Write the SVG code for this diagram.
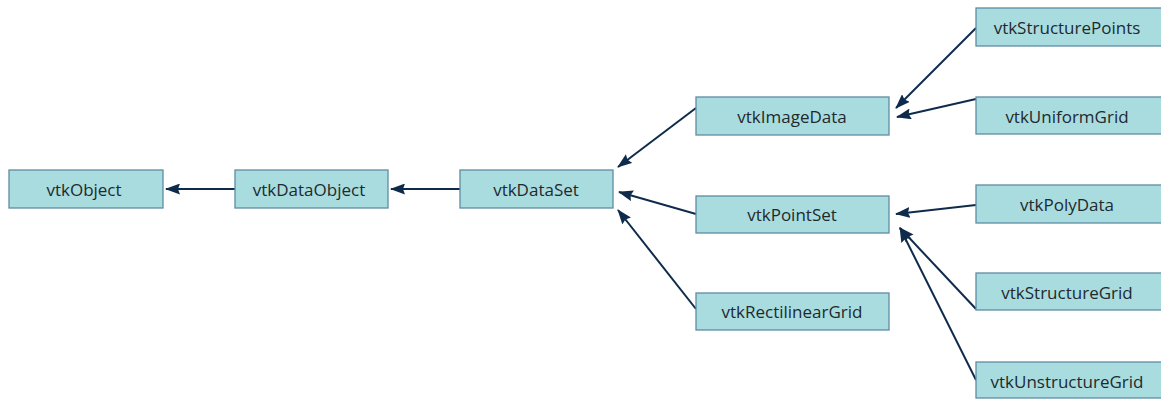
<svg xmlns="http://www.w3.org/2000/svg" width="1161" height="399" viewBox="0 0 1161 399">
<defs>
<style>
.box{fill:#a9dcdf;stroke:#5e8ca3;stroke-width:1.3}
.lbl{font-family:"Open Sans","Noto Sans",sans-serif;font-size:17px;fill:#1e2a2e;text-anchor:middle;dominant-baseline:central}
.edge{stroke:#0f2b4c;stroke-width:2;fill:none;marker-end:url(#ah)}
</style>
<marker id="ah" viewBox="0 0 15 11" refX="14" refY="5.5" markerWidth="7.5" markerHeight="5.5" orient="auto" markerUnits="strokeWidth">
<path d="M0,0 L15,5.5 L0,11 L2,5.5 Z" fill="#0f2b4c"/>
</marker>
</defs>
<rect width="1161" height="399" fill="#ffffff"/>
<g id="connectors">
<line class="edge" x1="235" y1="189" x2="166" y2="189"/>
<line class="edge" x1="460" y1="189" x2="391" y2="189"/>
<line class="edge" x1="696" y1="108" x2="618" y2="167"/>
<line class="edge" x1="696" y1="214" x2="619" y2="192"/>
<line class="edge" x1="696" y1="309" x2="618" y2="210"/>
<line class="edge" x1="976" y1="28" x2="896" y2="108"/>
<line class="edge" x1="976" y1="99" x2="897" y2="117"/>
<line class="edge" x1="976" y1="205" x2="896" y2="214"/>
<line class="edge" x1="976" y1="309" x2="900" y2="228"/>
<line class="edge" x1="976" y1="380" x2="900" y2="228"/>
</g>
<g id="vtkObject"><rect class="box" x="9" y="170" width="154" height="38"/><text class="lbl" x="84" y="189">vtkObject</text></g>
<g id="vtkDataObject"><rect class="box" x="235" y="170" width="153" height="38"/><text class="lbl" x="309" y="189">vtkDataObject</text></g>
<g id="vtkDataSet"><rect class="box" x="460" y="170" width="153" height="38"/><text class="lbl" x="536" y="189">vtkDataSet</text></g>
<g id="vtkImageData"><rect class="box" x="696" y="97" width="193" height="38"/><text class="lbl" x="792" y="116">vtkImageData</text></g>
<g id="vtkPointSet"><rect class="box" x="696" y="196" width="193" height="37"/><text class="lbl" x="792" y="214">vtkPointSet</text></g>
<g id="vtkRectilinearGrid"><rect class="box" x="696" y="293" width="193" height="37"/><text class="lbl" x="792" y="311">vtkRectilinearGrid</text></g>
<g id="vtkStructurePoints"><rect class="box" x="976" y="8" width="190" height="38"/><text class="lbl" x="1067" y="27">vtkStructurePoints</text></g>
<g id="vtkUniformGrid"><rect class="box" x="976" y="97" width="190" height="37"/><text class="lbl" x="1067" y="116">vtkUniformGrid</text></g>
<g id="vtkPolyData"><rect class="box" x="976" y="185" width="190" height="38"/><text class="lbl" x="1067" y="204">vtkPolyData</text></g>
<g id="vtkStructureGrid"><rect class="box" x="976" y="273" width="190" height="37"/><text class="lbl" x="1067" y="292">vtkStructureGrid</text></g>
<g id="vtkUnstructureGrid"><rect class="box" x="976" y="362" width="190" height="36"/><text class="lbl" x="1067" y="381">vtkUnstructureGrid</text></g>
</svg>
